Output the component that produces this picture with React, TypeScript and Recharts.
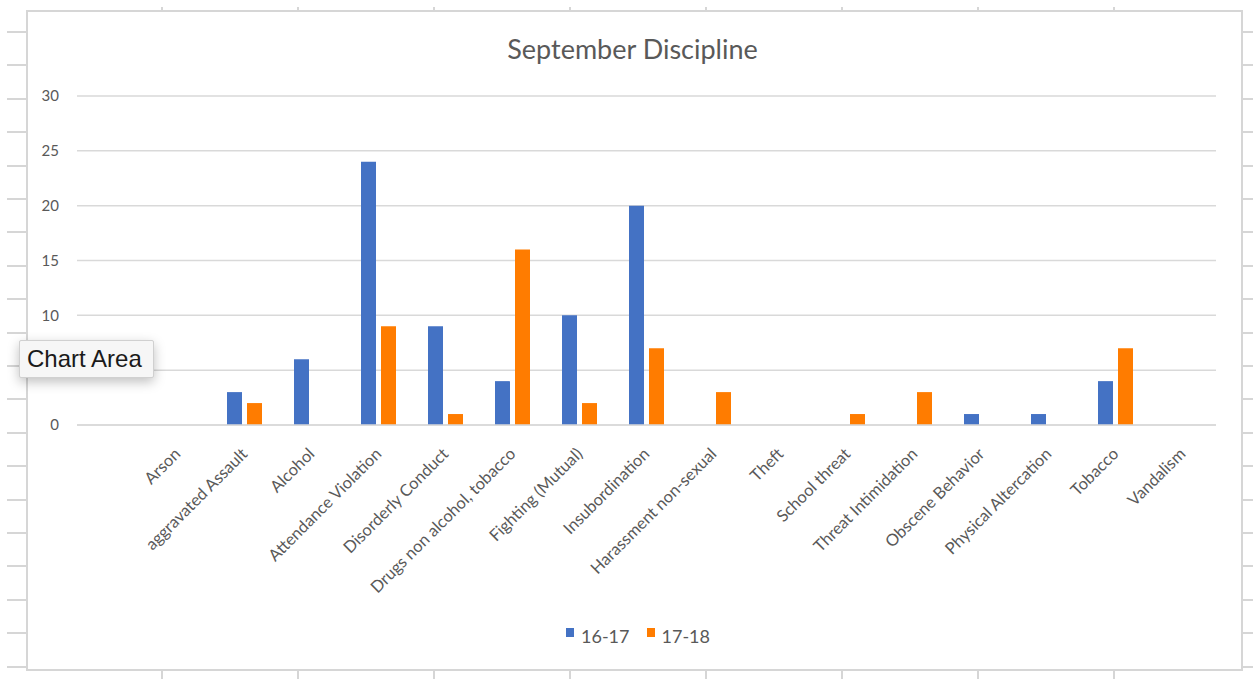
import { Bar, BarChart, CartesianGrid, Legend, XAxis, YAxis } from "recharts";

// first slot is an empty category in the source sheet
const categories = [
    "",
    "Arson",
    "aggravated Assault",
    "Alcohol",
    "Attendance Violation",
    "Disorderly Conduct",
    "Drugs non alcohol, tobacco",
    "Fighting (Mutual)",
    "Insubordination",
    "Harassment non-sexual",
    "Theft",
    "School threat",
    "Threat Intimidation",
    "Obscene Behavior",
    "Physical Altercation",
    "Tobacco",
    "Vandalism",
];
const season1617 = [0, 0, 3, 6, 24, 9, 4, 10, 20, 0, 0, 0, 0, 1, 1, 4, 0];
const season1718 = [0, 0, 2, 0, 9, 1, 16, 2, 7, 3, 0, 1, 3, 0, 0, 7, 0];
const yTicks = [0, 5, 10, 15, 20, 25, 30];

const data = categories.map((name, i) => ({
    name,
    "16-17": season1617[i],
    "17-18": season1718[i],
}));

const FONT = "Lato, 'Open Sans', sans-serif";
const GREY = "#595959";

const AngledTick = ({ x, y, payload }: any) => (
    <g transform={`translate(${x + 4},${y + 22})`}>
        <text textAnchor="end" transform="rotate(-45)" fill={GREY} fontSize={16.5} fontFamily={FONT}>
            {payload.value}
        </text>
    </g>
);

const LegendContent = ({ payload }: any) => (
    <div style={{ display: "flex", justifyContent: "center", gap: 17, fontFamily: FONT, fontSize: 18, color: GREY, paddingLeft: 60 }}>
        {(payload || []).map((p: any) => (
            <span key={p.value} style={{ display: "flex", alignItems: "flex-start" }}>
                <span style={{ width: 8, height: 9, background: p.color, marginRight: 7, marginTop: 3 }} />
                {p.value}
            </span>
        ))}
    </div>
);

export default function App() {
    const line = "#d6d6d6";
    return (
        <div style={{ position: "absolute", left: 0, top: 0, width: 1253, height: 679, background: "#fff", overflow: "hidden" }}>
            {/* spreadsheet cells peeking around the chart */}
            <div style={{ position: "absolute", left: 7, top: 0, width: 20, height: 679, backgroundImage: `repeating-linear-gradient(to bottom, transparent 0 31px, ${line} 31px 33px, transparent 33px 33.4px)` }} />
            <div style={{ position: "absolute", left: 1241, top: 0, width: 12, height: 679, backgroundImage: `repeating-linear-gradient(to bottom, transparent 0 31px, ${line} 31px 33px, transparent 33px 33.4px)` }} />
            <div style={{ position: "absolute", left: 27, top: 7, width: 1214, height: 672, backgroundImage: `repeating-linear-gradient(to right, transparent 0 134px, ${line} 134px 136px)`, backgroundPosition: "0 0" }} />
            <div style={{ position: "absolute", left: 26, top: 10, width: 1213, height: 657, border: `2px solid ${line}`, background: "#fff" }} />
            <div style={{ position: "absolute", left: 0, top: 32, width: 1253, textAlign: "center", fontFamily: FONT, fontSize: 27, color: GREY, paddingLeft: 12, boxSizing: "border-box" }}>
                September Discipline
            </div>
            <div style={{ position: "absolute", left: 0, top: 0 }}>
                <BarChart
                    width={1253}
                    height={679}
                    data={data}
                    margin={{ top: 96, right: 37, bottom: 30, left: 0 }}
                    barGap={5}
                    barSize={15}
                >
                    <CartesianGrid vertical={false} stroke="#d9d9d9" strokeWidth={1.5} />
                    <XAxis
                        dataKey="name"
                        interval={0}
                        height={200}
                        tick={<AngledTick />}
                        tickLine={false}
                        axisLine={{ stroke: "#d9d9d9", strokeWidth: 1.5 }}
                    />
                    <YAxis
                        width={77}
                        domain={[0, 30]}
                        ticks={yTicks}
                        tickLine={false}
                        axisLine={false}
                        tick={{ fill: GREY, fontSize: 15, fontFamily: FONT, dx: -10 }}
                    />
                    <Legend verticalAlign="bottom" height={24} content={<LegendContent />} />
                    <Bar dataKey="16-17" fill="#4472C4" isAnimationActive={false} />
                    <Bar dataKey="17-18" fill="#FF7C00" isAnimationActive={false} />
                </BarChart>
            </div>
            <div style={{ position: "absolute", left: 19, top: 340, width: 135, height: 38, background: "#f6f6f6", border: "1px solid #d0d0d0", borderRadius: 2, boxShadow: "0 4px 12px rgba(0,0,0,0.25)", fontFamily: "'Liberation Sans', Arial, sans-serif", fontSize: 24, color: "#1a1a1a", display: "flex", alignItems: "center", paddingLeft: 7, boxSizing: "border-box" }}>
                Chart Area
            </div>
        </div>
    );
}
